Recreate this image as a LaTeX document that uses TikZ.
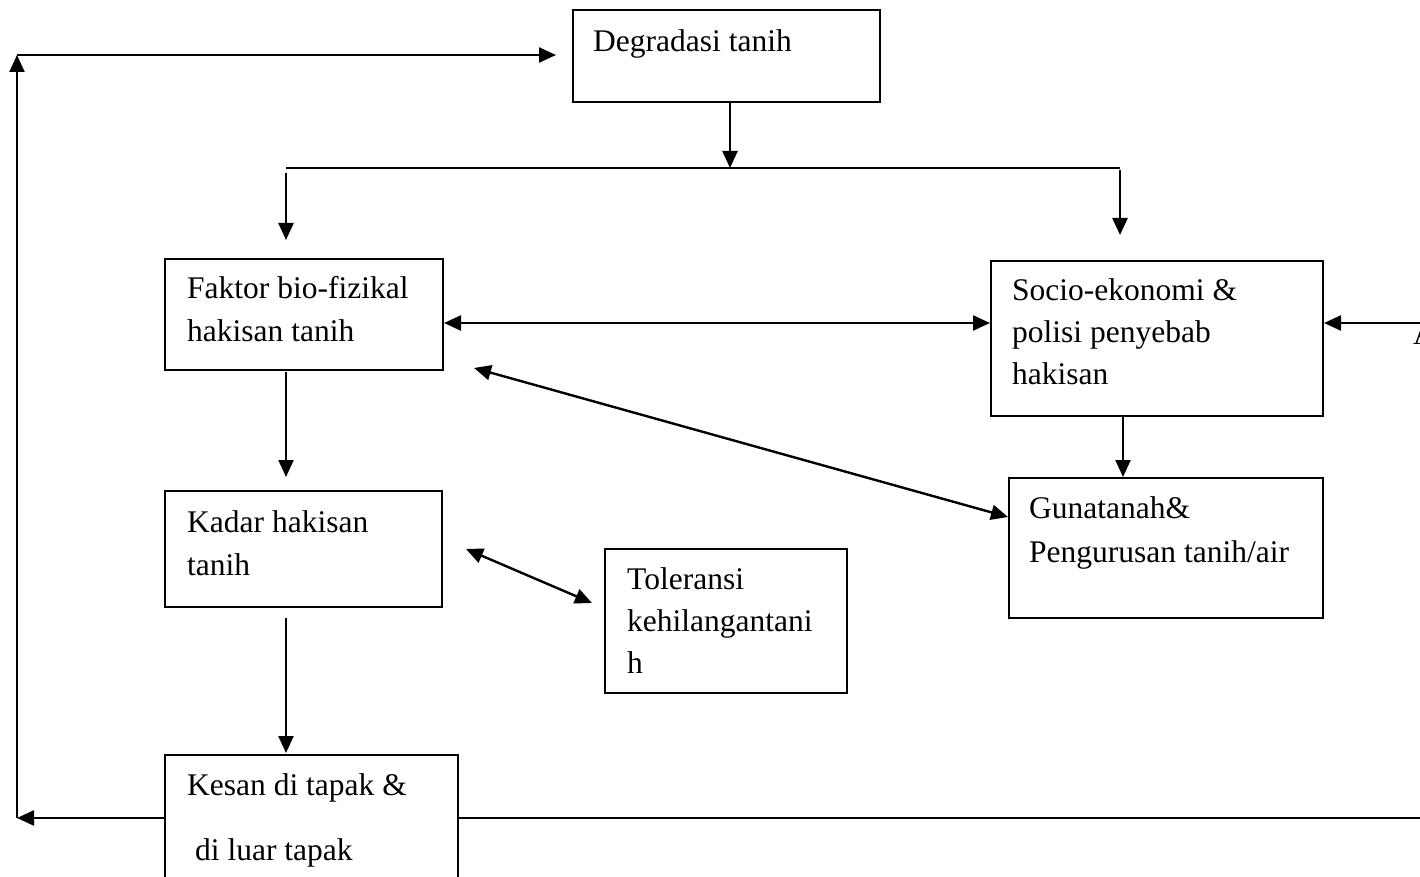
\documentclass[tikz,border=0pt]{standalone}
\usepackage{fontspec}
\setmainfont{Liberation Serif}
\usetikzlibrary{arrows.meta}
\begin{document}
\begin{tikzpicture}[x=1pt,y=-1pt,
  boxnode/.style={draw, line width=2pt, inner sep=0pt},
  lbl/.style={anchor=base west, inner sep=0pt, font=\fontsize{31.5}{42}\selectfont},
  conn/.style={line width=2.4pt},
  arr/.style={conn, -{Triangle[length=17pt,width=15pt]}},
  darr/.style={conn, {Triangle[length=17pt,width=15pt]}-{Triangle[length=17pt,width=15pt]}}]
\useasboundingbox (0,0) rectangle (1420,877);

% boxes
\node[boxnode, minimum width=307pt, minimum height=92pt] (deg) at (726.5,56) {};
\node[boxnode, minimum width=278pt, minimum height=111pt] (fak) at (304,314.5) {};
\node[boxnode, minimum width=332pt, minimum height=155pt] (soc) at (1157,338.5) {};
\node[boxnode, minimum width=277pt, minimum height=116pt] (kad) at (303.5,549) {};
\node[boxnode, minimum width=314pt, minimum height=140pt] (gun) at (1166,548) {};
\node[boxnode, minimum width=242pt, minimum height=144pt] (tol) at (726,621) {};
\node[boxnode, minimum width=293pt, minimum height=145pt] (kes) at (311.5,827.5) {};

% texts
\node[lbl] (tdeg) at (593,52) {Degradasi tanih};
\node[lbl] (tfak1) at (187,298) {Faktor bio-fizikal};
\node[lbl] (tfak2) at (187,341) {hakisan tanih};
\node[lbl] (tsoc1) at (1012,300) {Socio-ekonomi \&};
\node[lbl] (tsoc2) at (1012,342) {polisi penyebab};
\node[lbl] (tsoc3) at (1012,384) {hakisan};
\node[lbl] (tkad1) at (187,532) {Kadar hakisan};
\node[lbl] (tkad2) at (187,575) {tanih};
\node[lbl] (tgun1) at (1029,518) {Gunatanah\&};
\node[lbl] (tgun2) at (1029,562) {Pengurusan tanih/air};
\node[lbl] (ttol1) at (627,589) {Toleransi};
\node[lbl] (ttol2) at (627,631) {kehilangantani};
\node[lbl] (ttol3) at (627,673) {h};
\node[lbl] (tkes1) at (187,795) {Kesan di tapak \&};
\node[lbl] (tkes2) at (195,860) {di luar tapak};
\node[lbl] (ta) at (1413,344) {A};

% coordinates
\coordinate (j) at (730,168);
\coordinate (hl) at (286,168);
\coordinate (hr) at (1120,168);
\coordinate (hlb) at (286,173);
\coordinate (hrb) at (1120,170);
\coordinate (fakin) at (286,240);
\coordinate (socin) at (1120,235);
\coordinate (mid) at (700,323);
\coordinate (rin) at (1420,323);
\coordinate (fk0) at (286,372);
\coordinate (fk1) at (286,477);
\coordinate (d1) at (474,368);
\coordinate (d2) at (1000,517);
\coordinate (gk) at (1123,450);
\coordinate (t1) at (466,549);
\coordinate (t2) at (592,603);
\coordinate (k0) at (286,618);
\coordinate (k1) at (286,753);
\coordinate (bl) at (17,818);
\coordinate (tl) at (17,55);
\coordinate (tr) at (556,55);
\coordinate (br) at (1420,818);

% connectors
\draw[arr] (deg.south -| j) -- (j);
\draw[conn] (hl) -- (hr);
\draw[arr] (hlb) -- (fakin);
\draw[arr] (hrb) -- (socin);
\draw[darr] (fak.east |- mid) -- (soc.west |- mid);
\draw[arr] (rin) -- (soc.east |- rin);
\draw[arr] (fk0) -- (fk1);
\draw[darr] (d1) -- (gun.west |- d2);
\draw[arr] (soc.south -| gk) -- (gun.north -| gk);
\draw[darr] (t1) -- (t2);
\draw[arr] (k0) -- (k1);
\draw[arr] (kes.west |- bl) -- (bl);
\draw[arr] (bl) -- (tl);
\draw[arr] (tl) -- (tr);
\draw[conn] (kes.east |- br) -- (br);
\end{tikzpicture}
\end{document}
